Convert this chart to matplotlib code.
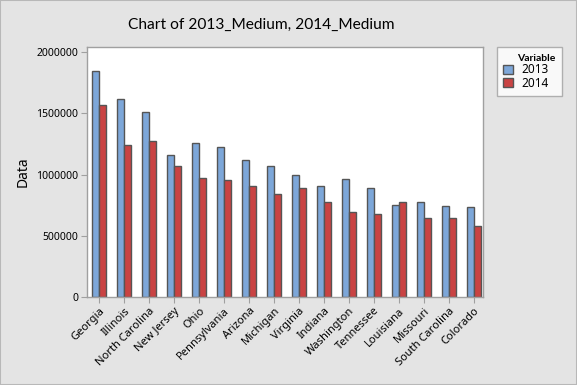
"""Minitab-style clustered bar chart: 2013 vs 2014 medium values by state."""
import numpy as np
import matplotlib
matplotlib.use("Agg")
import matplotlib.pyplot as plt
from matplotlib.patches import Rectangle

states = ["Georgia", "Illinois", "North Carolina", "New Jersey", "Ohio",
          "Pennsylvania", "Arizona", "Michigan", "Virginia", "Indiana",
          "Washington", "Tennessee", "Louisiana", "Missouri",
          "South Carolina", "Colorado"]
medium_2013 = [1850000, 1620000, 1514000, 1161000, 1260000, 1227000, 1120000,
               1071000, 997000, 907000, 965000, 891000, 752000, 776000,
               743000, 735000]
medium_2014 = [1571000, 1243000, 1276000, 1071000, 973000, 956000, 907000,
               842000, 891000, 776000, 694000, 678000, 776000, 645000,
               645000, 580000]

BG = "#e4e4e4"
BLUE = "#7da7d9"
RED = "#c94343"
EDGE = "#555555"
FRAME = "#a0a0a0"

plt.rcParams["font.family"] = ["Noto Sans", "DejaVu Sans"]

fig = plt.figure(figsize=(5.77, 3.85), dpi=100, facecolor=BG)
ax = fig.add_axes([86.7 / 577, 1 - 297 / 385, (483 - 86.7) / 577, (297 - 47) / 385])

x = np.arange(len(states))
w = 0.28
ax.bar(x - w / 2, medium_2013, w, color=BLUE, edgecolor=EDGE, linewidth=1.0, label="2013")
ax.bar(x + w / 2, medium_2014, w, color=RED, edgecolor=EDGE, linewidth=1.0, label="2014")

ax.set_xlim(-0.5, 15.36)
ax.set_ylim(0, 2000000 * 250 / 244.7)
ax.set_yticks([0, 500000, 1000000, 1500000, 2000000])
ax.set_yticklabels(["0", "500000", "1000000", "1500000", "2000000"], fontsize=7.5)
ax.set_xticks(x)
ax.set_xticklabels(states, rotation=45, ha="right", rotation_mode="anchor", fontsize=8)
ax.tick_params(axis="both", length=4, color=FRAME, pad=2)
ax.set_ylabel("Data", fontsize=10, labelpad=4, fontweight="medium")
for s in ax.spines.values():
    s.set_color(FRAME)
    s.set_linewidth(1.0)

fig.text(261 / 577, 1 - 25 / 385, "Chart of 2013_Medium, 2014_Medium",
         ha="center", va="center", fontsize=11.2, family=["Lato", "DejaVu Sans"])

lx0, lx1, ly0 = 496.7, 562, 47.3
leg = fig.legend(loc="upper left",
                 bbox_to_anchor=(lx0 / 577, 1 - ly0 / 385, (lx1 - lx0) / 577, 0.0),
                 mode="expand", title="Variable", fontsize=8.5,
                 title_fontproperties={"size": 7.5, "weight": "bold",
                                       "family": ["Lato", "DejaVu Sans"]},
                 frameon=True, fancybox=False, edgecolor=FRAME,
                 handlelength=0.8, handleheight=0.8, handletextpad=0.7,
                 borderpad=0.55, labelspacing=0.05, alignment="right",
                 borderaxespad=0)
leg.get_frame().set_linewidth(1.0)

fig.patches.append(Rectangle((0, 0), 1, 1, transform=fig.transFigure, fill=False,
                             edgecolor="#b8b8b8", linewidth=1.5))

fig.savefig("out.png", dpi=100, facecolor=BG)
